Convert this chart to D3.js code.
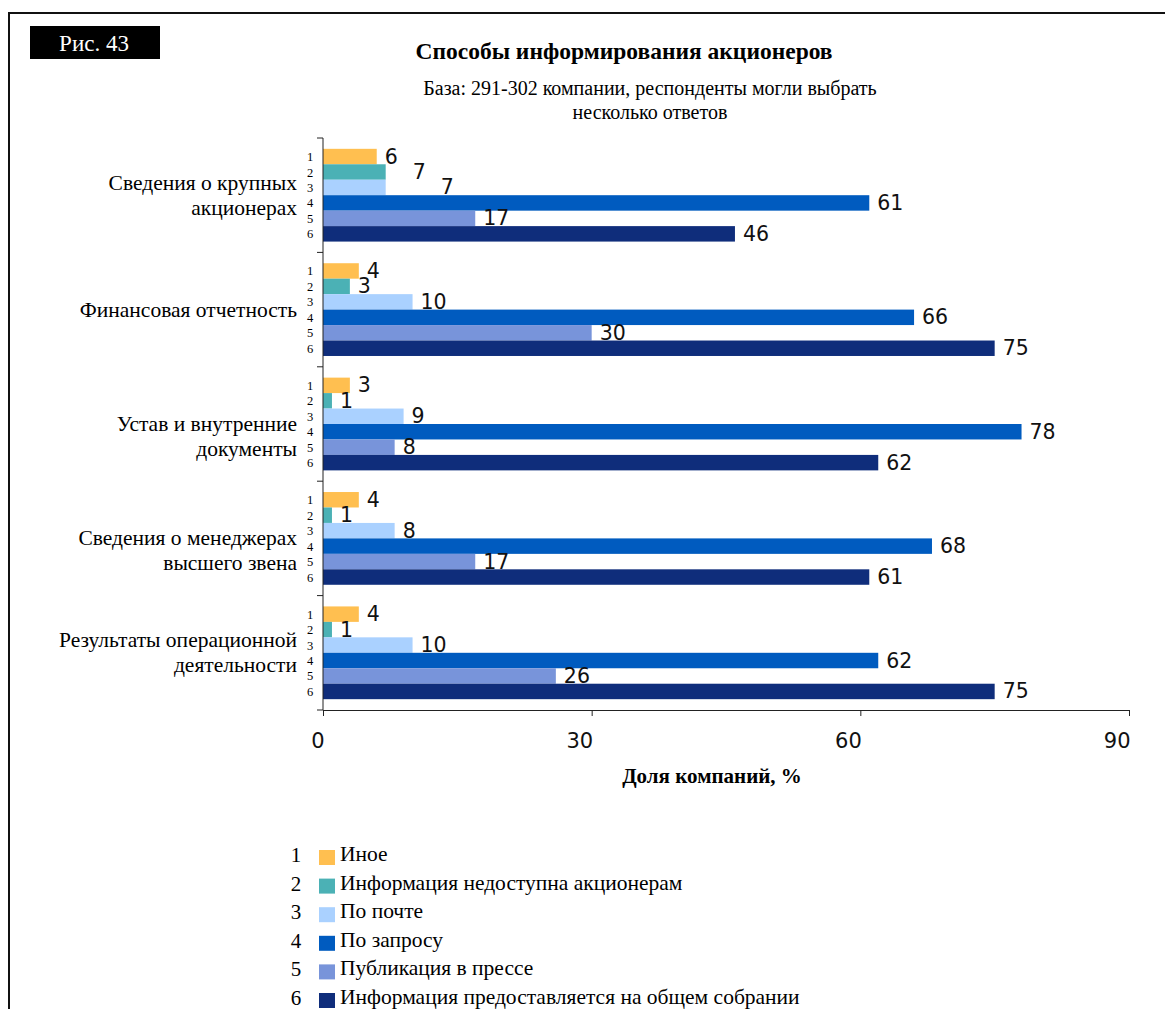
<!DOCTYPE html>
<html>
<head>
<meta charset="utf-8">
<script src="https://cdn.jsdelivr.net/npm/d3@7"></script>
<style>
  body { margin: 0; background: #fff; }
  svg { display: block; }
  .serif { font-family: "Liberation Serif", "Times New Roman", serif; }
  .sans { font-family: "DejaVu Sans", Verdana, sans-serif; }
</style>
</head>
<body>
<div id="chart"></div>
<script>
// Data
const categories = [
    ["Сведения о крупных", "акционерах "],
    ["Финансовая отчетность"],
    ["", "Устав и внутренние", "документы"],
    ["", "Сведения о менеджерах", "высшего звена"],
    ["Результаты операционной", "деятельности"]
];
const seriesNames = [
    "Иное",
    "Информация недоступна акционерам",
    "По почте",
    "По запросу",
    "Публикация в прессе",
    "Информация предоставляется на общем собрании"
];
const seriesColors = ["#FFBF50", "#4BB1B5", "#AAD1FF", "#005BBF", "#7894DA", "#0F2D7B"];
const values = [
    [6, 7, 7, 61, 17, 46],
    [4, 3, 10, 66, 30, 75],
    [3, 1, 9, 78, 8, 62],
    [4, 1, 8, 68, 17, 61],
    [4, 1, 10, 62, 26, 75]
];
const xTicks = [0, 30, 60, 90];

const W = 1165, H = 1009;
const svg = d3.select("#chart").append("svg")
    .attr("width", W)
    .attr("height", H);

// outer frame (right/bottom edges fall outside the picture)
svg.append("rect")
    .attr("x", 9).attr("y", 13)
    .attr("width", W + 20).attr("height", H + 20)
    .attr("fill", "none")
    .attr("stroke", "#111")
    .attr("stroke-width", 2);

// figure tag
svg.append("rect")
    .attr("x", 30).attr("y", 26)
    .attr("width", 130).attr("height", 33)
    .attr("fill", "#000");
svg.append("text")
    .attr("class", "serif")
    .attr("x", 94).attr("y", 51)
    .attr("text-anchor", "middle")
    .attr("fill", "#fff")
    .style("font-size", "23px")
    .text("Рис. 43");

// titles
svg.append("text")
    .attr("class", "serif")
    .attr("x", 624).attr("y", 59)
    .attr("text-anchor", "middle")
    .style("font-size", "23.5px")
    .style("font-weight", "bold")
    .text("Способы информирования акционеров");
svg.append("text")
    .attr("class", "serif")
    .attr("x", 650).attr("y", 95)
    .attr("text-anchor", "middle")
    .style("font-size", "20px")
    .text("База: 291-302 компании, респонденты могли выбрать");
svg.append("text")
    .attr("class", "serif")
    .attr("x", 650).attr("y", 119)
    .attr("text-anchor", "middle")
    .style("font-size", "20px")
    .text("несколько ответов");

// plot area
const plot = { left: 323, right: 1129, top: 138, bottom: 710 };

const x = d3.scaleLinear()
    .domain([0, 90])
    .range([plot.left, plot.right]);

const y0 = d3.scaleBand()
    .domain(d3.range(categories.length))
    .range([plot.top, plot.bottom]);

const y1 = d3.scaleBand()
    .domain(d3.range(seriesNames.length))
    .range([0, y0.bandwidth()])
    .paddingInner(0)
    .paddingOuter(0.7);

// bars
const groups = svg.selectAll(".group")
    .data(values)
    .enter().append("g")
    .attr("class", "group")
    .attr("transform", (d, i) => `translate(0,${y0(i)})`);

groups.selectAll("rect")
    .data(d => d)
    .enter().append("rect")
    .attr("x", x(0))
    .attr("y", (d, j) => y1(j))
    .attr("width", d => x(d) - x(0))
    .attr("height", y1.bandwidth())
    .attr("fill", (d, j) => seriesColors[j]);

// value labels, pushed right when they would sit on top of the previous one
groups.each(function(d) {
    const g = d3.select(this);
    let prev = null;
    d.forEach((v, j) => {
        const x0 = x(v) + 8;
        let lx = x0;
        const t = g.append("text")
            .attr("class", "val sans")
            .attr("y", y1(j) + y1.bandwidth() / 2 + 7)
            .style("font-size", "20.5px")
            .attr("fill", "#111")
            .text(v);
        const w = t.node().getComputedTextLength();
        if (prev && x0 >= prev.x0 && lx < prev.x + prev.w + 4) {
            lx = prev.x + prev.w + 15;
        }
        t.attr("x", lx);
        prev = { x0: x0, x: lx, w: w };
    });
});

// small series numbers next to the axis
groups.selectAll(".num")
    .data(d => d)
    .enter().append("text")
    .attr("class", "num serif")
    .attr("x", plot.left - 13)
    .attr("y", (d, j) => y1(j) + y1.bandwidth() / 2 + 4.5)
    .attr("text-anchor", "middle")
    .style("font-size", "12.5px")
    .text((d, j) => j + 1);

// category labels
groups.each(function(d, i) {
    const lines = categories[i];
    const g = d3.select(this);
    const mid = y0.bandwidth() / 2;
    const lh = 25;
    lines.forEach((line, k) => {
        if (!line) return;
        g.append("text")
            .attr("class", "serif")
            .attr("x", 297)
            .attr("y", mid + 7 + (k - (lines.length - 1) / 2) * lh)
            .attr("text-anchor", "end")
            .style("font-size", "21.5px")
            .text(line);
    });
});

// y axis with group boundary ticks
svg.append("line")
    .attr("x1", plot.left).attr("x2", plot.left)
    .attr("y1", plot.top).attr("y2", plot.bottom)
    .attr("stroke", "#222");
svg.selectAll(".ytick")
    .data(d3.range(categories.length + 1))
    .enter().append("line")
    .attr("class", "ytick")
    .attr("x1", plot.left - 6).attr("x2", plot.left)
    .attr("y1", i => i < categories.length ? y0(i) : plot.bottom)
    .attr("y2", i => i < categories.length ? y0(i) : plot.bottom)
    .attr("stroke", "#222");

// x axis
const xAxis = svg.append("g")
    .attr("transform", `translate(0,${plot.bottom})`)
    .call(d3.axisBottom(x).tickValues(xTicks).tickSize(6).tickSizeOuter(0).tickPadding(17));
xAxis.select(".domain").attr("stroke", "#222");
xAxis.selectAll(".tick line").attr("stroke", "#222");
xAxis.selectAll(".tick text")
    .attr("class", "sans")
    .attr("text-anchor", "end")
    .attr("dx", 1)
    .style("font-size", "21px")
    .attr("fill", "#111");

svg.append("text")
    .attr("class", "serif")
    .attr("x", 712).attr("y", 783)
    .attr("text-anchor", "middle")
    .style("font-size", "21px")
    .style("font-weight", "bold")
    .text("Доля компаний, %");

// legend
const legend = svg.append("g")
    .attr("transform", "translate(0,845)");

const legendItems = legend.selectAll(".legend-item")
    .data(seriesNames)
    .enter().append("g")
    .attr("class", "legend-item")
    .attr("transform", (d, i) => `translate(0, ${i * 28.6})`);

legendItems.append("text")
    .attr("class", "serif")
    .attr("x", 296)
    .attr("y", 17)
    .attr("text-anchor", "middle")
    .style("font-size", "21px")
    .text((d, i) => i + 1);

legendItems.append("rect")
    .attr("x", 319)
    .attr("y", 5)
    .attr("width", 16)
    .attr("height", 15)
    .attr("fill", (d, i) => seriesColors[i]);

legendItems.append("text")
    .attr("class", "serif")
    .attr("x", 340)
    .attr("y", 16)
    .style("font-size", "21.5px")
    .text(d => d);
</script>
</body>
</html>
